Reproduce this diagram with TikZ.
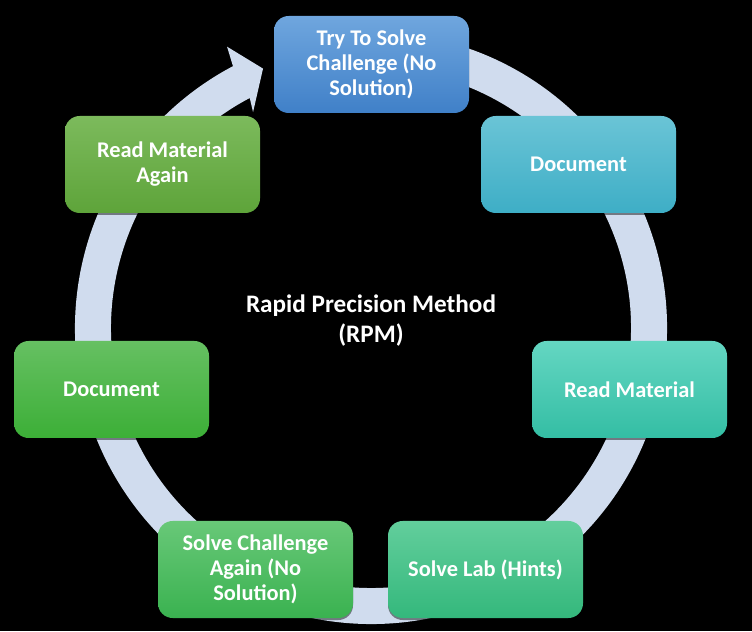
\documentclass[tikz,border=0pt]{standalone}
\usepackage{fontspec}
\setmainfont{Carlito}
\usetikzlibrary{shadows}
\definecolor{ringcol}{RGB}{208,220,238}
\definecolor{c1t}{RGB}{111,166,222}\definecolor{c1b}{RGB}{64,128,200}
\definecolor{c2t}{RGB}{106,196,214}\definecolor{c2b}{RGB}{62,174,198}
\definecolor{c3t}{RGB}{100,214,194}\definecolor{c3b}{RGB}{52,190,164}
\definecolor{c4t}{RGB}{98,206,156}\definecolor{c4b}{RGB}{52,184,124}
\definecolor{c5t}{RGB}{104,200,120}\definecolor{c5b}{RGB}{58,178,80}
\definecolor{c6t}{RGB}{102,192,98}\definecolor{c6b}{RGB}{60,175,55}
\definecolor{c7t}{RGB}{124,186,92}\definecolor{c7b}{RGB}{94,164,58}
\tikzset{
  stepbox/.style 2 args={draw=none, rounded corners=11pt, minimum width=146.25pt,
    minimum height=72.75pt, align=center, text=white, inner sep=2pt,
    font=\fontsize{16.8pt}{18.8pt}\selectfont\bfseries,
    top color=#1, bottom color=#2,
    drop shadow={shadow xshift=0pt, shadow yshift=-1.5pt, opacity=0.45, fill=black}},
  titletext/.style={text=white, align=center, font=\fontsize{18.9pt}{22.5pt}\selectfont\bfseries}
}
\begin{document}
\begin{tikzpicture}[x=0.75pt,y=0.75pt]
\fill[black] (0,0) rectangle (752,631);
\useasboundingbox (0,0) rectangle (752,631);
% ring arrow
\begin{scope}[shift={(371,303)}]
\fill[ringcol] (80:296) arc[start angle=80, end angle=-242.2, radius=296]
  -- (117.1:316) -- (112.6:281) -- (118.65:246) -- (117.8:260)
  arc[start angle=-242.2, end angle=80, radius=260] -- cycle;
\end{scope}
\node[stepbox={c1t}{c1b}] (b1) at (371.5,566.5) {Try To Solve\\Challenge (No\\Solution)};
\node[stepbox={c2t}{c2b}] (b2) at (578.5,466.5) {Document};
\node[stepbox={c3t}{c3b}] (b3) at (629.5,241.5) {Read Material};
\node[stepbox={c4t}{c4b}] (b4) at (485.5,61.5) {Solve Lab (Hints)};
\node[stepbox={c5t}{c5b}] (b5) at (255.5,61.5) {Solve Challenge\\Again (No\\Solution)};
\node[stepbox={c6t}{c6b}] (b6) at (111.5,241.5) {Document};
\node[stepbox={c7t}{c7b}] (b7) at (162.5,466.5) {Read Material\\Again};
\node[titletext] (title) at (371,310) {Rapid Precision Method\\(RPM)};
\end{tikzpicture}
\end{document}
